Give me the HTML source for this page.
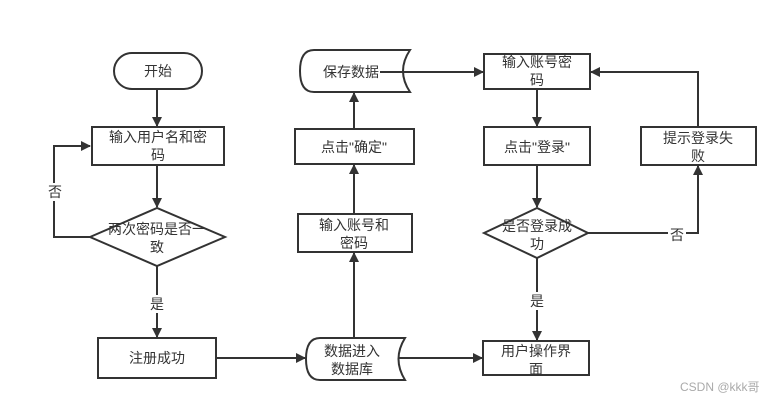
<!DOCTYPE html>
<html><head><meta charset="utf-8"><style>
body{margin:0;background:#fff}
svg text{font-family:"Liberation Sans","Noto Sans CJK SC",sans-serif;font-size:14px;fill:#333}
</style></head><body>
<svg width="778" height="400" viewBox="0 0 778 400" xmlns="http://www.w3.org/2000/svg">
<defs><marker id="a" markerWidth="10" markerHeight="10" refX="9" refY="5" orient="auto" markerUnits="userSpaceOnUse"><path d="M0,0 L10,5 L0,10 z" fill="#333"/></marker></defs>
<g stroke="#333" stroke-width="2" fill="none">
<rect x="114" y="53" width="88" height="36" rx="18" fill="#fff"/>
<rect x="92" y="127" width="132" height="38" fill="#fff"/>
<polygon points="90,237 157,208 225,237 157,266" fill="#fff"/>
<rect x="98" y="338" width="118" height="40" fill="#fff"/>
<path d="M320,338 H405 Q392,359 405,380 H320 Q306,380 306,359 Q306,338 320,338 Z" fill="#fff"/>
<rect x="298" y="214" width="114" height="38" fill="#fff"/>
<rect x="295" y="129" width="119" height="35" fill="#fff"/>
<path d="M314,50 H410 Q396,71 410,92 H314 Q300,92 300,71 Q300,50 314,50 Z" fill="#fff"/>
<rect x="484" y="54" width="106" height="35" fill="#fff"/>
<rect x="484" y="127" width="106" height="38" fill="#fff"/>
<polygon points="484,233 537,208 588,233 537,258" fill="#fff"/>
<rect x="483" y="341" width="106" height="34" fill="#fff"/>
<rect x="641" y="127" width="115" height="38" fill="#fff"/>
<line x1="157" y1="89" x2="157" y2="126" marker-end="url(#a)"/>
<line x1="157" y1="165" x2="157" y2="207" marker-end="url(#a)"/>
<polyline points="90,237 54,237 54,146 90,146" marker-end="url(#a)"/>
<line x1="157" y1="266" x2="157" y2="337" marker-end="url(#a)"/>
<line x1="216" y1="358" x2="305" y2="358" marker-end="url(#a)"/>
<line x1="354" y1="338" x2="354" y2="253" marker-end="url(#a)"/>
<line x1="354" y1="214" x2="354" y2="165" marker-end="url(#a)"/>
<line x1="354" y1="129" x2="354" y2="93" marker-end="url(#a)"/>
<line x1="380" y1="72" x2="483" y2="72" marker-end="url(#a)"/>
<line x1="398" y1="358" x2="482" y2="358" marker-end="url(#a)"/>
<line x1="537" y1="89" x2="537" y2="126" marker-end="url(#a)"/>
<line x1="537" y1="165" x2="537" y2="207" marker-end="url(#a)"/>
<line x1="537" y1="258" x2="537" y2="340" marker-end="url(#a)"/>
<polyline points="588,233 698,233 698,166" marker-end="url(#a)"/>
<polyline points="698,127 698,72 591,72" marker-end="url(#a)"/>
</g>
<rect x="148" y="295" width="18" height="18" fill="#fff"/>
<rect x="46" y="183" width="18" height="18" fill="#fff"/>
<rect x="528" y="292" width="18" height="18" fill="#fff"/>
<rect x="668" y="226" width="18" height="18" fill="#fff"/>
<g text-anchor="middle">
<text x="158" y="76">开始</text>
<text x="158" y="142">输入用户名和密</text><text x="158" y="160">码</text>
<text x="157" y="234">两次密码是否一</text><text x="157" y="252">致</text>
<text x="157" y="309">是</text>
<text x="55" y="197">否</text>
<text x="157" y="363">注册成功</text>
<text x="352" y="356">数据进入</text><text x="352" y="374">数据库</text>
<text x="354" y="230">输入账号和</text><text x="354" y="248">密码</text>
<text x="354" y="152">点击"确定"</text>
<text x="351" y="77">保存数据</text>
<text x="537" y="67">输入账号密</text><text x="537" y="85">码</text>
<text x="537" y="152">点击"登录"</text>
<text x="537" y="231">是否登录成</text><text x="537" y="249">功</text>
<text x="537" y="306">是</text>
<text x="677" y="240">否</text>
<text x="536" y="356">用户操作界</text><text x="536" y="374">面</text>
<text x="698" y="143">提示登录失</text><text x="698" y="161">败</text>
</g>
<text x="680" y="391" style="font-size:12px;fill:#aaa">CSDN @kkk哥</text>
</svg>
</body></html>
